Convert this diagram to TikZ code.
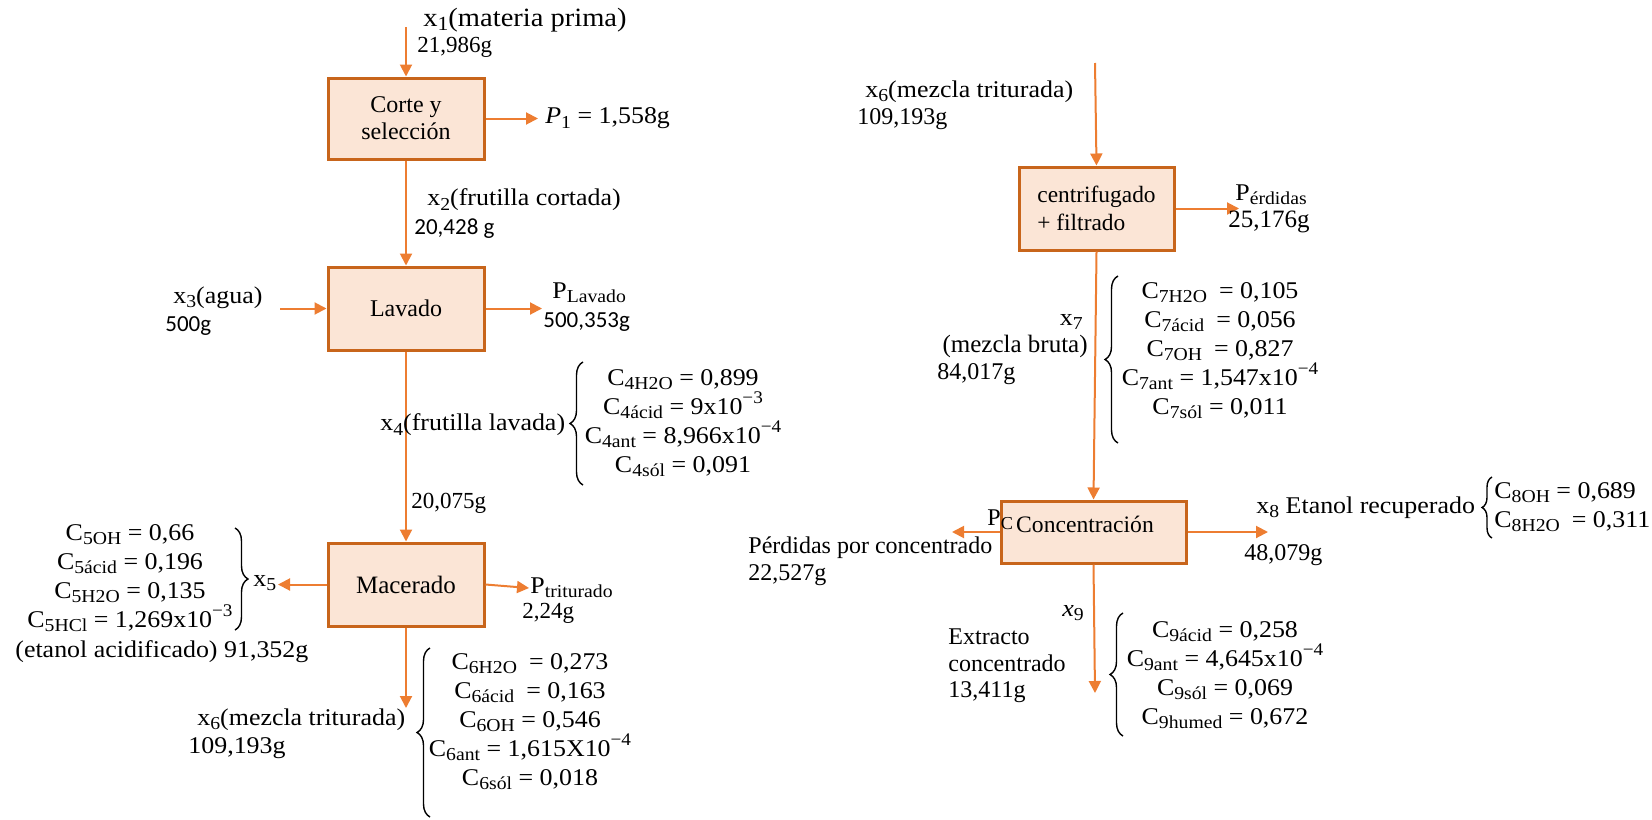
\documentclass[tikz,border=0pt]{standalone}
\usepackage{fontspec}
\setmainfont{Liberation Serif}
\newfontfamily\camf[FakeStretch=1.08]{Liberation Serif}
\newfontfamily\calf{Carlito}
\usetikzlibrary{arrows.meta,decorations.pathreplacing}
\newcommand\sbs[1]{\raisebox{-0.38ex}{\scalebox{0.76}{#1}}}
\newcommand\sps[1]{\raisebox{0.95ex}{\scalebox{0.74}{#1}}}
\definecolor{arrc}{HTML}{ED7D31}
\definecolor{boxc}{HTML}{C8651B}
\definecolor{boxf}{HTML}{FBE5D6}
\begin{document}
\begin{tikzpicture}[x=0.5pt,y=-0.5pt,
  box/.style={draw=boxc, fill=boxf, line width=1.5pt, inner sep=0pt, font=\fontsize{12}{13.5}\selectfont},
  flow/.style={draw=arrc, line width=1pt, -{Triangle[length=6pt,width=6pt]}},
  lab/.style={inner sep=0pt, font=\fontsize{12}{14.5}\camf},
  tim/.style={inner sep=0pt, font=\fontsize{12}{13.5}\selectfont},
  cal/.style={inner sep=0pt, font=\fontsize{11.5}{14}\calf},
  eqs/.style={inner sep=0pt, align=center, font=\fontsize{12}{14.5}\camf},
  brc/.style={draw=black, line width=0.7pt, decorate, decoration={brace, amplitude=6.5pt}}
]
\useasboundingbox (0,0) rectangle (1652,819);

% ---------- boxes ----------
\node[box, minimum width=78pt, minimum height=40.5pt, align=center] (corte) at (406,118.5) {Corte y\\selección};
\node[box, minimum width=78pt, minimum height=41.5pt] (lavado) at (406,308.5) {Lavado};
\node[box, minimum width=78pt, minimum height=41.5pt, font=\fontsize{12.5}{14}\selectfont] (macerado) at (406,584.5) {Macerado};
\node[box, minimum width=77.5pt, minimum height=41.5pt, align=left, font=\fontsize{11.7}{14}\selectfont] (centrif) at (1096.5,208.5) {centrifugado\\+ filtrado};
\node[box, minimum width=92.5pt, minimum height=31pt] (concen) at (1093.5,532) {};
\node[tim, font=\fontsize{11.8}{13.5}\selectfont] (concT) at (1085,524) {Concentración};

% ---------- free ends ----------
\coordinate (x1s) at (406,27);
\coordinate (p1e) at (538,118.5);
\coordinate (x3s) at (280,308.5);
\coordinate (plave) at (542,308.5);
\coordinate (x5e) at (278,584.5);
\coordinate (ptrie) at (529,588);
\coordinate (x6e) at (406,708);
\coordinate (x6s) at (1095,63);
\coordinate (perde) at (1239,208.5);
\coordinate (pce) at (952,532);
\coordinate (x8e) at (1268,532);
\coordinate (x9e) at (1095,693);

% ---------- connectors ----------
\draw[flow] (x1s) -- (corte.north);
\draw[flow] (corte.east) -- (p1e);
\draw[flow] (corte.south) -- (lavado.north);
\draw[flow] (x3s) -- (lavado.west);
\draw[flow] (lavado.east) -- (plave);
\draw[flow] (lavado.south) -- (macerado.north);
\draw[flow] (macerado.west) -- (x5e);
\draw[flow] (macerado.east) -- (ptrie);
\draw[flow] (macerado.south) -- (x6e);
\draw[flow] (x6s) -- (centrif.north);
\draw[flow] (centrif.east) -- (perde);
\draw[flow] (centrif.south) -- (concen.north);
\draw[flow] (concen.west) -- (pce);
\draw[flow] (concen.east) -- (x8e);
\draw[flow] (concen.south) -- (x9e);

% ---------- left column labels ----------
\node[lab, anchor=west, font=\fontsize{13.2}{15}\camf] (lx1) at (423,20) {x\sbs{1}(materia prima)};
\node[tim, anchor=west, font=\fontsize{11.5}{13}\selectfont] (lx1m) at (417,47) {21,986g};
\node[lab, anchor=west] (lp1) at (545,118.5) {\textit{P}\sbs{1} = 1,558g};
\node[lab, anchor=west] (lx2) at (427,200) {x\sbs{2}(frutilla cortada)};
\node[cal, anchor=west] (lx2m) at (414,229) {20,428 g};
\node[lab, anchor=west] (lx3) at (173,298) {x\sbs{3}(agua)};
\node[cal, anchor=west] (lx3m) at (165,326) {500g};
\node[lab, anchor=west] (lplav) at (552,293) {P\sbs{Lavado}};
\node[cal, anchor=west] (lplavm) at (543,322) {500,353g};
\node[lab, anchor=west] (lx4) at (380,425) {x\sbs{4}(frutilla lavada)};
\node[tim, anchor=west, font=\fontsize{11.5}{13}\selectfont] (lx4m) at (411,503) {20,075g};
\node[eqs] (c4) at (683,423) {C\sbs{4H2O} = 0,899\\C\sbs{4ácid} = 9x10\sps{−3}\\C\sbs{4ant} = 8,966x10\sps{−4}\\C\sbs{4sól} = 0,091};
\node[eqs] (c5) at (130,578) {C\sbs{5OH} = 0,66\\C\sbs{5ácid} = 0,196\\C\sbs{5H2O} = 0,135\\C\sbs{5HCl} = 1,269x10\sps{−3}};
\node[lab, anchor=west] (lx5) at (253,583) {x\sbs{5}};
\node[lab, anchor=west] (letanol) at (15,652) {(etanol acidificado) 91,352g};
\node[lab, anchor=west] (lptri) at (530,588) {P\sbs{triturado}};
\node[tim, anchor=west, font=\fontsize{11.5}{13}\selectfont] (lptrim) at (522,613) {2,24g};
\node[lab, anchor=west] (lx6) at (197,720) {x\sbs{6}(mezcla triturada)};
\node[lab, anchor=west] (lx6m) at (188,748) {109,193g};
\node[eqs] (c6) at (530,721.5) {C\sbs{6H2O}\enspace = 0,273\\C\sbs{6ácid}\enspace = 0,163\\C\sbs{6OH} = 0,546\\C\sbs{6ant} = 1,615X10\sps{−4}\\C\sbs{6sól} = 0,018};

% ---------- right column labels ----------
\node[lab, anchor=west] (rx6) at (865,92) {x\sbs{6}(mezcla triturada)};
\node[tim, anchor=west] (rx6m) at (857,119) {109,193g};
\node[lab, anchor=west] (lperd) at (1235,195) {P\sbs{érdidas}};
\node[tim, anchor=west, font=\fontsize{12.5}{14}\selectfont] (lperdm) at (1228,222) {25,176g};
\node[lab, anchor=east] (lx7) at (1083,322) {x\sbs{7}};
\node[tim, anchor=east, font=\fontsize{12.5}{14}\selectfont] (lx7n) at (1088,346) {(mezcla bruta)};
\node[tim, anchor=west] (lx7m) at (937,374) {84,017g};
\node[eqs] (c7) at (1220,350.5) {C\sbs{7H2O}\enspace = 0,105\\C\sbs{7ácid}\enspace = 0,056\\C\sbs{7OH}\enspace = 0,827\\C\sbs{7ant} = 1,547x10\sps{−4}\\C\sbs{7sól} = 0,011};
\node[tim, anchor=west] (lpc) at (987,520) {P\sbs{C}};
\node[tim, anchor=west] (lpcn) at (748,548) {Pérdidas por concentrado};
\node[tim, anchor=west] (lpcm) at (748,575) {22,527g};
\node[lab, anchor=west] (lx8) at (1256,508) {x\sbs{8} Etanol recuperado};
\node[tim, anchor=west] (lx8m) at (1244,555) {48,079g};
\node[inner sep=0pt, align=left, anchor=west, font=\fontsize{12}{14.5}\camf] (c8) at (1494,507.5) {C\sbs{8OH} = 0,689\\C\sbs{8H2O}\enspace = 0,311};
\node[lab, anchor=west] (lx9) at (1062,613) {\textit{x}\sbs{9}};
\node[tim, anchor=west, align=left, font=\fontsize{12}{13.25}\selectfont] (lx9n) at (948,666) {Extracto\\concentrado\\13,411g};
\node[eqs] (c9) at (1225,675) {C\sbs{9ácid} = 0,258\\C\sbs{9ant} = 4,645x10\sps{−4}\\C\sbs{9sól} = 0,069\\C\sbs{9humed} = 0,672};

% ---------- braces ----------
\draw[brc] (583,485) -- (583,362);
\draw[brc] (235,528) -- (235,630);
\draw[brc] (430,817) -- (430,648);
\draw[brc] (1118,443) -- (1118,276);
\draw[brc, decoration={brace, amplitude=5pt}] (1492,538) -- (1492,477);
\draw[brc] (1123,736) -- (1123,613);
\end{tikzpicture}
\end{document}
